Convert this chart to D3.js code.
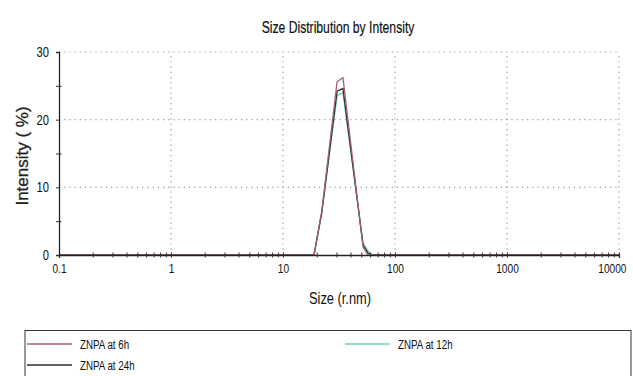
<!DOCTYPE html>
<html>
<head>
<meta charset="utf-8">
<script src="https://cdn.jsdelivr.net/npm/d3@7"></script>
<style>
  body { margin: 0; background: #fff; }
  svg { display: block; }
  text { font-family: "Liberation Sans", Arial, sans-serif; }
</style>
</head>
<body>
<div id="chart"></div>
<script>
// size bins (r.nm) and intensity (%)
const sizes = [0.1, 18.9, 22.2, 30.4, 34.3, 51.8, 57.4, 62, 10000];
const znpa6h = [0, 0, 6.5, 25.6, 26.2, 1.2, 0, 0, 0];
const znpa12h = [0, 0, 6.2, 23.6, 24.0, 1.8, 0.6, 0, 0];
const znpa24h = [0, 0, 6.3, 24.2, 24.6, 1.5, 0.3, 0, 0];

const seriesNames = ["ZNPA at 6h", "ZNPA at 12h", "ZNPA at 24h"];
const seriesColors = ["#a4606c", "#6fd3a6", "#2b2f33"];

const xTicks = [0.1, 1, 10, 100, 1000, 10000];
const yTicks = [0, 10, 20, 30];

const W = 633, H = 376;
const margin = {top: 52, right: 14, bottom: 121, left: 59};

// squeeze text to look like a narrow face
function narrow(sel, ratio) {
    sel.each(function () {
        let len = this.getComputedTextLength();
        if (len > 0) {
            d3.select(this)
                .attr("textLength", len * ratio)
                .attr("lengthAdjust", "spacingAndGlyphs");
        }
    });
}

const svg = d3.select("#chart")
    .append("svg")
    .attr("width", W)
    .attr("height", H);

const x = d3.scaleLog()
    .domain([0.1, 10000])
    .range([margin.left, W - margin.right]);

const y = d3.scaleLinear()
    .domain([0, 30])
    .range([H - margin.bottom, margin.top]);

// title
svg.append("text")
    .attr("x", 338)
    .attr("y", 33)
    .attr("text-anchor", "middle")
    .attr("font-size", 16)
    .attr("fill", "#111")
    .attr("stroke", "#111")
    .attr("stroke-width", 0.2)
    .text("Size Distribution by Intensity")
    .call(narrow, 0.76);

// dotted grid
let grid = svg.append("g")
    .attr("stroke", "#999")
    .attr("stroke-width", 1.2)
    .attr("stroke-dasharray", "1.2,4");

grid.selectAll(".gy")
    .data(yTicks.filter(d => d > 0))
    .enter()
    .append("line")
    .attr("x1", x(0.1))
    .attr("x2", x(10000))
    .attr("y1", d => y(d))
    .attr("y2", d => y(d));

grid.selectAll(".gx")
    .data(xTicks.filter(d => d > 0.1))
    .enter()
    .append("line")
    .attr("x1", d => x(d))
    .attr("x2", d => x(d))
    .attr("y1", y(0))
    .attr("y2", y(30));

// curves
let series = [
    {name: seriesNames[1], color: seriesColors[1], values: znpa12h},
    {name: seriesNames[2], color: seriesColors[2], values: znpa24h},
    {name: seriesNames[0], color: seriesColors[0], values: znpa6h}
];

let line = d3.line()
    .x((d, i) => x(sizes[i]))
    .y(d => y(d));

svg.selectAll(".curve")
    .data(series)
    .enter()
    .append("path")
    .attr("fill", "none")
    .attr("stroke", d => d.color)
    .attr("stroke-width", 1.3)
    .attr("d", d => line(d.values));

// x axis with minor ticks crossing the line
let xAll = [];
for (let e = -1; e < 4; e++) {
    for (let m = 1; m < 10; m++) {
        xAll.push(m * Math.pow(10, e));
    }
}
xAll.push(10000);

let xaxis = svg.append("g")
    .attr("transform", "translate(0," + y(0) + ")")
    .call(d3.axisBottom(x)
        .tickValues(xAll)
        .tickSize(3)
        .tickPadding(6)
        .tickFormat(d => xTicks.includes(d) ? String(d) : ""));

xaxis.select(".domain").attr("stroke", "#222").attr("stroke-width", 1.3);
xaxis.selectAll(".tick line")
    .attr("y1", -2.5)
    .attr("y2", 2.5)
    .attr("stroke", "#333");
xaxis.selectAll("text")
    .attr("font-family", "Liberation Sans, Arial, sans-serif")
    .attr("font-size", 13)
    .attr("fill", "#111")
    .call(narrow, 0.78);
xaxis.selectAll("text")
    .filter(d => d === 10000)
    .attr("text-anchor", "end")
    .attr("dx", 7);

// y axis
let yaxis = svg.append("g")
    .attr("transform", "translate(" + x(0.1) + ",0)")
    .call(d3.axisLeft(y)
        .tickValues([0, 5, 10, 15, 20, 25, 30])
        .tickSize(3)
        .tickPadding(7)
        .tickFormat(d => yTicks.includes(d) ? String(d) : ""));

yaxis.select(".domain").attr("stroke", "#222").attr("stroke-width", 1.3);
yaxis.selectAll(".tick line")
    .attr("x1", -3)
    .attr("x2", d => yTicks.includes(d) ? 0 : 2.5)
    .attr("stroke", "#333");
yaxis.selectAll("text")
    .attr("font-family", "Liberation Sans, Arial, sans-serif")
    .attr("font-size", 14)
    .attr("fill", "#111")
    .call(narrow, 0.8);

// axis titles
svg.append("text")
    .attr("x", 340)
    .attr("y", 304)
    .attr("text-anchor", "middle")
    .attr("font-size", 16)
    .attr("fill", "#111")
    .text("Size (r.nm)")
    .call(narrow, 0.8);

svg.append("text")
    .attr("transform", "translate(28,156) rotate(-90)")
    .attr("text-anchor", "middle")
    .attr("font-size", 17)
    .attr("fill", "#222")
    .attr("stroke", "#222")
    .attr("stroke-width", 0.3)
    .text("Intensity ( %)");

// legend box
svg.append("rect")
    .attr("x", 25)
    .attr("y", 330.5)
    .attr("width", 606)
    .attr("height", 60)
    .attr("fill", "none")
    .attr("stroke", "#333")
    .attr("stroke-width", 1);

let legendItems = [
    {name: seriesNames[0], color: seriesColors[0], lx: 27, ly: 344},
    {name: seriesNames[1], color: seriesColors[1], lx: 345, ly: 344},
    {name: seriesNames[2], color: seriesColors[2], lx: 27, ly: 365}
];

let lg = svg.selectAll(".leg")
    .data(legendItems)
    .enter()
    .append("g")
    .attr("transform", d => "translate(" + d.lx + "," + d.ly + ")");

lg.append("line")
    .attr("x1", 0)
    .attr("x2", 45)
    .attr("stroke", d => d.color)
    .attr("stroke-width", 1.3);

lg.append("text")
    .attr("x", 53)
    .attr("y", 4.5)
    .attr("font-size", 12.5)
    .attr("fill", "#111")
    .text(d => d.name)
    .call(narrow, 0.78);
</script>
</body>
</html>
